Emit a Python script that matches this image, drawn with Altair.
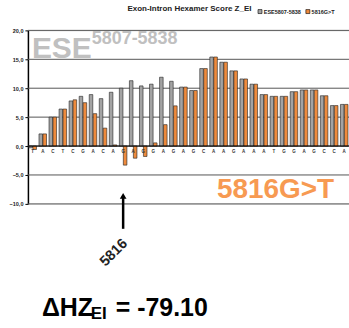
import altair as alt
import pandas as pd

letters = list("TACTCGACAGAGGAGAGCAAGAAATGGAGCCA")
ese_values = [-0.3, 2.1, 5.0, 6.4, 7.8, 8.6, 8.9, 8.2, 9.3, 10.0, 11.3, 10.4,
              10.7, 11.9, 11.2, 10.2, 9.6, 13.4, 15.4, 14.5, 13.0, 11.6, 10.7,
              8.9, 8.6, 8.6, 9.4, 9.7, 9.7, 8.7, 7.0, 7.2]
mut_values = [-0.6, 2.1, 5.0, 6.4, 8.0, 7.5, 5.6, 3.1, 0.2, -3.3, -2.1, -1.8,
              0.55, 3.7, 6.95, 10.2, 9.6, 13.4, 15.4, 14.5, 13.0, 11.6, 10.7,
              8.9, 8.6, 8.6, 9.4, 9.7, 9.7, 8.7, 7.0, 7.2]
series_names = ["ESE5807-5838", "5816G>T"]
series_colors = ["#a3a3a3", "#ee8a3c"]
y_ticks = [-10, -5, 0, 5, 10, 15, 20]
mutation_pos = [9]
mutation_label = ["5816"]
title_text = ["Exon-Intron Hexamer Score Z_EI"]
FONT = "Liberation Sans"

rows = []
for i, (l, a, b) in enumerate(zip(letters, ese_values, mut_values)):
    rows.append({"pos": i, "letter": l, "series": series_names[0], "value": a})
    rows.append({"pos": i, "letter": l, "series": series_names[1], "value": b})
df = pd.DataFrame(rows)
letters_df = pd.DataFrame({"pos": list(range(len(letters))), "letter": letters})
arrow_df = pd.DataFrame({"pos": mutation_pos, "label": mutation_label})
grid_df = pd.DataFrame({"v": y_ticks})
one = pd.DataFrame({"k": [0]})

xscale = alt.Scale(paddingInner=0.25, paddingOuter=0.1)
yscale = alt.Scale(domain=[-10, 20], nice=False)
yaxis = alt.Axis(
    values=y_ticks, title=None, grid=False, labelOverlap=False, tickCount=7,
    labelExpr="replace(format(datum.value, '.1f'), '.', ',')",
    labelFontSize=5.5, labelFontWeight="bold", labelFont=FONT, labelColor="#222",
    tickSize=3, tickColor="black", domainColor="black", domainWidth=1.5,
    labelPadding=2)

grid = alt.Chart(grid_df).mark_rule(color="#555", strokeWidth=1).encode(
    y=alt.Y("v:Q", scale=yscale, axis=yaxis))

bars = alt.Chart(df).mark_bar(stroke="#222", strokeWidth=0.6).encode(
    x=alt.X("pos:O", axis=None, scale=xscale),
    xOffset=alt.XOffset("series:N", sort=series_names, scale=alt.Scale(paddingInner=0.1)),
    y=alt.Y("value:Q", scale=yscale, axis=yaxis),
    color=alt.Color("series:N", sort=series_names,
                    scale=alt.Scale(domain=series_names, range=series_colors),
                    legend=alt.Legend(title=None, orient="none", legendX=230, legendY=-22,
                                      direction="horizontal", symbolType="square",
                                      symbolSize=16, labelFontSize=5.5, labelFont=FONT,
                                      labelFontWeight="bold", labelColor="#222",
                                      symbolStrokeColor="black", symbolStrokeWidth=0.6,
                                      columnPadding=3, labelOffset=1, padding=0)),
)

zero = alt.Chart(one).mark_rule(color="black", strokeWidth=1).encode(y=alt.datum(0))

letters_layer = alt.Chart(letters_df).mark_text(
    fontSize=4.5, font=FONT, fontWeight="bold", color="#333", baseline="top", dy=3
).encode(x=alt.X("pos:O", scale=xscale), y=alt.datum(0), text="letter:N")

title_layer = alt.Chart(pd.DataFrame({"t": title_text})).mark_text(
    fontSize=8, font=FONT, fontWeight="bold", color="#222", align="center",
    baseline="alphabetic"
).encode(x=alt.value(162), y=alt.value(-19), text="t:N")

ese_big = alt.Chart(one).mark_text(
    text="ESE", fontSize=30, font=FONT, fontWeight="bold", color="#c0c0c0",
    align="left", baseline="alphabetic"
).encode(x=alt.value(4), y=alt.value(28))
ese_sup = alt.Chart(one).mark_text(
    text="5807-5838", fontSize=18, font=FONT, fontWeight="bold", color="#c0c0c0",
    align="left", baseline="alphabetic"
).encode(x=alt.value(64), y=alt.value(14))
mut_text = alt.Chart(one).mark_text(
    text="5816G>T", fontSize=28, font=FONT, fontWeight="bold", color="#f79a52",
    align="right", baseline="alphabetic"
).encode(x=alt.value(307), y=alt.value(168))

arrow_line = alt.Chart(arrow_df).mark_rule(color="black", strokeWidth=2.5).encode(
    x=alt.X("pos:O", scale=xscale), y=alt.value(167), y2=alt.value(199))
arrow_head = alt.Chart(arrow_df).mark_point(
    shape="triangle-up", filled=True, color="black", size=45, opacity=1
).encode(x=alt.X("pos:O", scale=xscale), y=alt.value(166))
arrow_label = alt.Chart(arrow_df).mark_text(
    fontSize=14.5, font=FONT, fontWeight="bold", color="#222", angle=315, dx=-13
).encode(x=alt.X("pos:O", scale=xscale), y=alt.value(214), text="label:N")

dhz_main = alt.Chart(one).mark_text(
    text="\u0394HZ", fontSize=25, font=FONT, fontWeight="bold", color="black",
    align="left", baseline="alphabetic"
).encode(x=alt.value(14), y=alt.value(286))
dhz_sub = alt.Chart(one).mark_text(
    text="EI", fontSize=17, font=FONT, fontWeight="bold", color="black",
    align="left", baseline="alphabetic"
).encode(x=alt.value(63), y=alt.value(289))
dhz_val = alt.Chart(one).mark_text(
    text="= -79.10", fontSize=25, font=FONT, fontWeight="bold", color="black",
    align="left", baseline="alphabetic"
).encode(x=alt.value(88), y=alt.value(286))

chart = alt.layer(
    grid, bars, zero, letters_layer, title_layer, ese_big, ese_sup, mut_text,
    arrow_line, arrow_head, arrow_label, dhz_main, dhz_sub, dhz_val
).properties(
    width=322, height=174,
    autosize=alt.AutoSizeParams(type="none"),
    padding={"left": 28, "top": 30, "right": 0, "bottom": 124},
).configure_view(strokeWidth=0).configure(background="white")

chart.save("out.html", embed_options={"renderer": "svg", "actions": False})
